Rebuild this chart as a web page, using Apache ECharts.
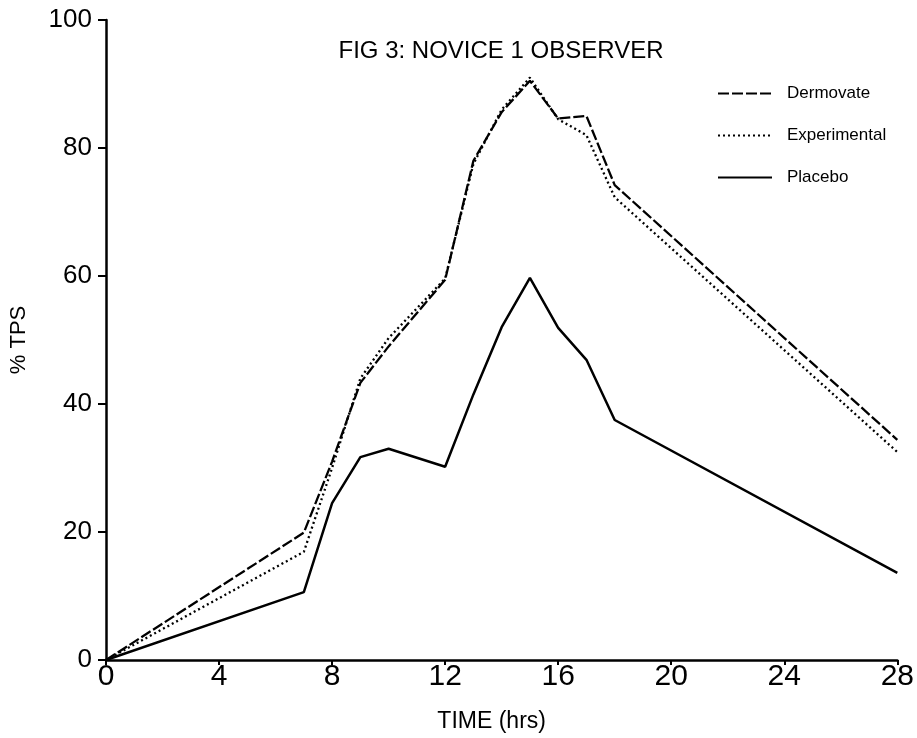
<!DOCTYPE html>
<html>
<head>
<meta charset="utf-8">
<script src="https://cdn.jsdelivr.net/npm/echarts@6/dist/echarts.min.js"></script>
<style>
html,body{margin:0;padding:0;background:#fff;}
#main{width:917px;height:738px;}
</style>
</head>
<body>
<div id="main"></div>
<script>
// hours
var hours = [0, 7, 8, 9, 10, 12, 13, 14, 15, 16, 17, 18, 28];
// % TPS per treatment
var dermovate = [0, 19.9, 31, 43.3, 49, 59.4, 78, 85.6, 90.5, 84.6, 85, 74.2, 34.4];
var experimental = [0, 16.9, 30, 44, 50.3, 59.6, 77.5, 86, 91, 84.5, 82, 72.3, 32.5];
var placebo = [0, 10.6, 24.5, 31.7, 33, 30.2, 41.5, 52, 59.7, 51.9, 46.9, 37.5, 13.6];
var names = ['Dermovate', 'Experimental', 'Placebo'];

function pairs(xs, ys) {
	var out = [];
	for (var i = 0; i < xs.length; i++) out.push([xs[i], ys[i]]);
	return out;
}

var chart = echarts.init(document.getElementById('main'));
var font = "'Liberation Sans', Arial, Helvetica, sans-serif";
var option = {
	backgroundColor: '#fff',
	animation: false,
	title: {
		text: 'FIG 3: NOVICE 1 OBSERVER',
		left: 496,
		top: 34,
		textAlign: 'center',
		textStyle: { fontFamily: font, fontSize: 24, fontWeight: 'normal', color: '#000' }
	},
	legend: {
		orient: 'vertical',
		left: 712,
		top: 80,
		itemWidth: 54,
		itemHeight: 14,
		itemGap: 25,
		itemStyle: { opacity: 0 },
		textStyle: { fontFamily: font, fontSize: 17, color: '#000', padding: [0, 0, 0, 10] },
		data: names
	},
	grid: { left: 106, right: 19, top: 20, bottom: 78 },
	xAxis: {
		type: 'value',
		min: 0, max: 28, interval: 4,
		name: 'TIME (hrs)',
		nameLocation: 'middle',
		nameGap: 50,
		nameTextStyle: { fontFamily: font, fontSize: 23, color: '#000', padding: [0, 20, 0, 0] },
		axisLine: { lineStyle: { color: '#000', width: 2.5 } },
		axisTick: { length: 5, lineStyle: { color: '#000', width: 2 } },
		axisLabel: { fontFamily: font, fontSize: 30, color: '#000', margin: 2 },
		splitLine: { show: false }
	},
	yAxis: {
		type: 'value',
		min: 0, max: 100, interval: 20,
		name: '% TPS',
		nameLocation: 'middle',
		nameGap: 76,
		nameTextStyle: { fontFamily: font, fontSize: 22, color: '#000' },
		axisLine: { show: true, lineStyle: { color: '#000', width: 2.5 } },
		axisTick: { show: true, length: 8, lineStyle: { color: '#000', width: 2 } },
		axisLabel: { fontFamily: font, fontSize: 26, color: '#000', margin: 14 },
		splitLine: { show: false }
	},
	series: [
		{
			name: names[0], type: 'line', symbol: 'none',
			lineStyle: { color: '#000', width: 2.3, type: [11, 3] },
			itemStyle: { color: '#000' },
			data: pairs(hours, dermovate)
		},
		{
			name: names[1], type: 'line', symbol: 'none',
			lineStyle: { color: '#000', width: 2.3, type: [2, 3] },
			itemStyle: { color: '#000' },
			data: pairs(hours, experimental)
		},
		{
			name: names[2], type: 'line', symbol: 'none',
			lineStyle: { color: '#000', width: 2.5, type: 'solid' },
			itemStyle: { color: '#000' },
			data: pairs(hours, placebo)
		}
	]
};
chart.setOption(option);
</script>
</body>
</html>
